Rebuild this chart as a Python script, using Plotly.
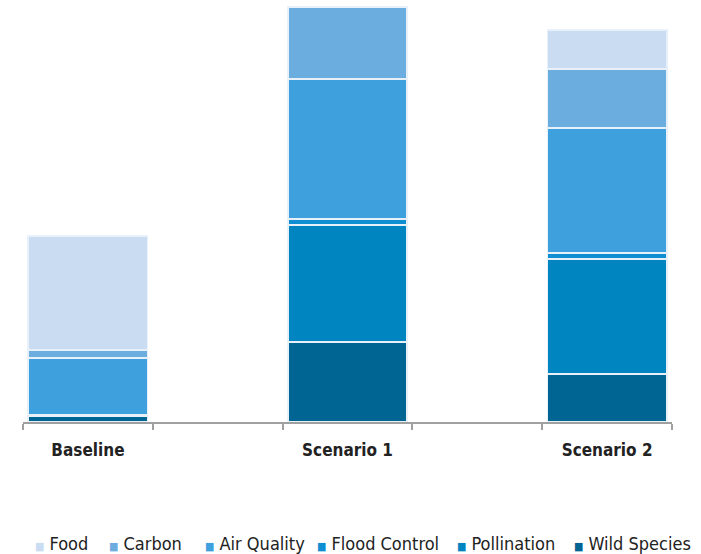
import plotly.graph_objects as go

# Categories (blank spacer slots keep the wide gaps between scenarios)
categories = ["Baseline", " ", "Scenario 1", "  ", "Scenario 2"]
scenarios = ["Baseline", "Scenario 1", "Scenario 2"]

# Ecosystem service values per scenario (stacked bottom to top)
wild_species = [6, 80, 48]
pollination = [0, 117, 115]
flood_control = [1, 6, 6]
air_quality = [57, 140, 125]
carbon = [8, 72, 59]
food = [114, 0, 39]

series = [
    ("Wild Species", wild_species, "#006592"),
    ("Pollination", pollination, "#0085c0"),
    ("Flood Control", flood_control, "#0f8fd2"),
    ("Air Quality", air_quality, "#3ea0dc"),
    ("Carbon", carbon, "#6cade0"),
    ("Food", food, "#c9dcf1"),
]

FONT = "DejaVu Sans Condensed, Liberation Sans Narrow, Arial Narrow, sans-serif"

fig = go.Figure()
for name, vals, color in series:
    fig.add_trace(go.Bar(
        name=name,
        x=scenarios,
        y=vals,
        marker=dict(color=color, line=dict(color="#e8f1fa", width=1.5)),
        width=0.92,
        showlegend=False,
    ))

# Legend row drawn as text items: Food first, Wild Species last
legend_left_px = [33, 107, 203, 315, 455, 572]
plot_left, plot_w = 23, 649
for (name, _, color), px in zip(reversed(series), legend_left_px):
    fig.add_annotation(
        xref="paper", yref="paper",
        x=(px - plot_left) / plot_w, y=-0.289,
        xanchor="left", yanchor="middle",
        showarrow=False,
        text=f"<span style='color:{color};font-size:11px'>■</span> {name}",
        font=dict(family=FONT, size=18, color="#222"),
    )

fig.update_layout(
    barmode="stack",
    width=701,
    height=554,
    margin=dict(l=23, r=29, t=3, b=132, autoexpand=False),
    plot_bgcolor="white",
    paper_bgcolor="white",
    font=dict(family=FONT, color="#222"),
    xaxis=dict(
        type="category",
        categoryorder="array",
        categoryarray=categories,
        range=[-0.5, 4.5],
        tickson="boundaries",
        ticks="outside",
        ticklen=6,
        tickcolor="#a0a0a0",
        tickwidth=1.5,
        showline=True,
        linecolor="#a0a0a0",
        linewidth=1.5,
        showgrid=False,
        tickfont=dict(family=FONT, size=17, color="#222", weight="bold"),
        ticklabelstandoff=12,
    ),
    yaxis=dict(
        range=[0, 419],
        visible=False,
        showgrid=False,
    ),
    showlegend=False,
)

fig.write_html("out.html")
